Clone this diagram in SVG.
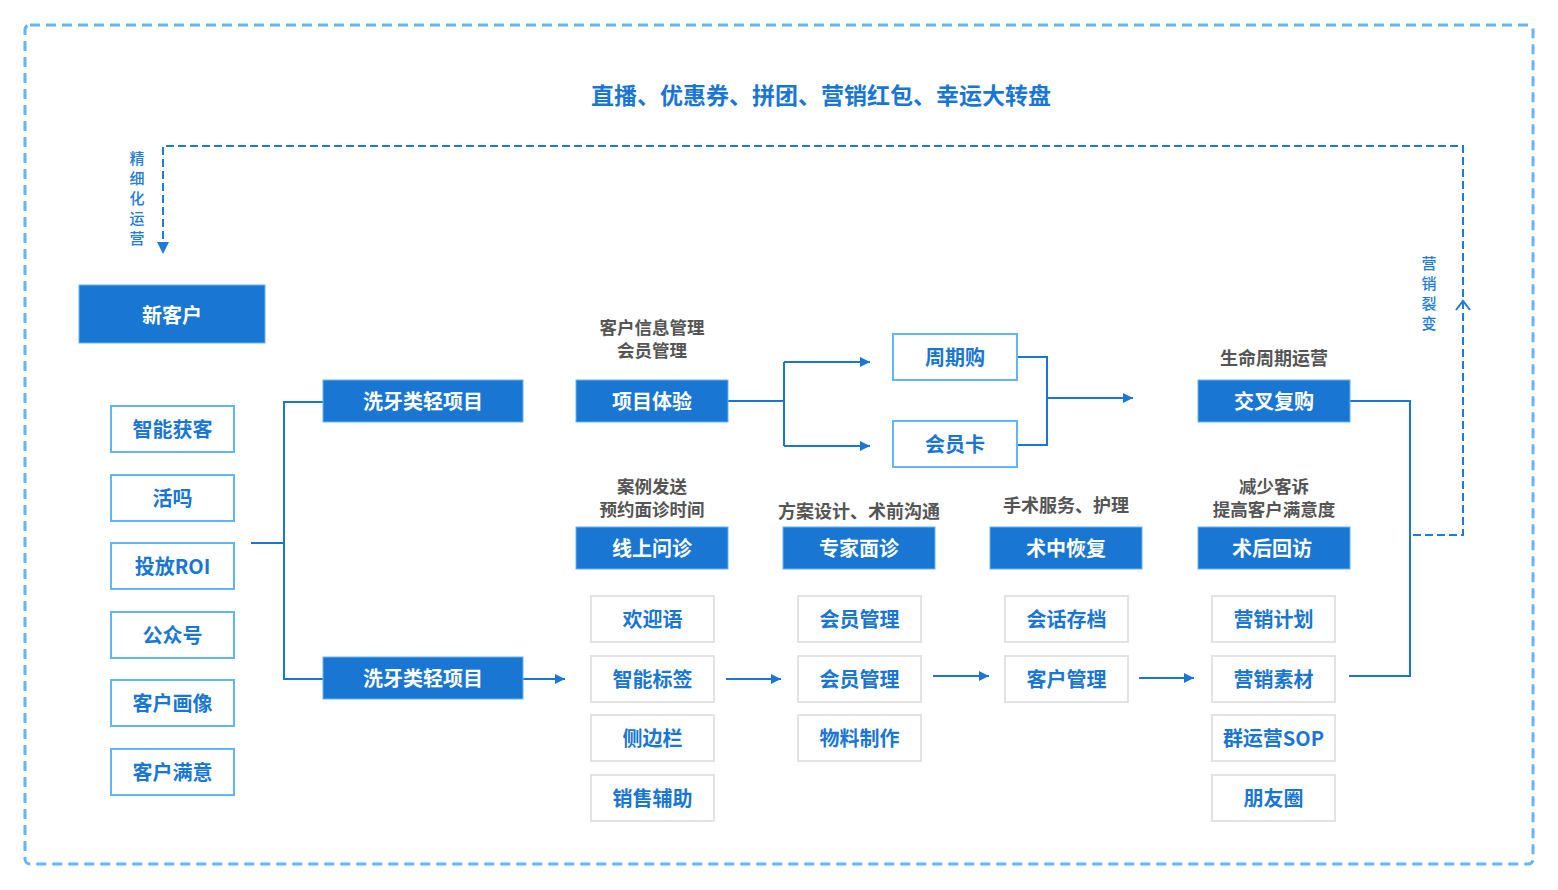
<svg xmlns="http://www.w3.org/2000/svg" width="1558" height="890" viewBox="0 0 1558 890">
<defs>
<marker id="ah" viewBox="0 0 10 10" refX="10" refY="5" markerWidth="14" markerHeight="10" markerUnits="userSpaceOnUse" orient="auto"><path d="M0,0 L10,5 L0,10 z" fill="#1976d2"/></marker>
<marker id="ahd" viewBox="0 0 10 10" refX="10" refY="5" markerWidth="18" markerHeight="12" markerUnits="userSpaceOnUse" orient="auto"><path d="M0,0 L10,5 L0,10 z" fill="#1e7bd8"/></marker>
</defs>
<style>
text{font-family:"Noto Sans CJK SC","Liberation Sans",sans-serif;font-weight:bold;text-anchor:middle;dominant-baseline:central}
.solid rect{fill:#1976d2;stroke:#64b5f6;stroke-width:1}
.solid text{fill:#fff;font-size:20px}
.lb rect{fill:#fff;stroke:#64b5f6;stroke-width:2}
.lb text{fill:#1976d2;font-size:20px}
.gb rect{fill:#fff;stroke:#e3e3e3;stroke-width:2}
.gb text{fill:#1976d2;font-size:20px}
.lab{fill:#555;font-size:18px}
.lab2{fill:#555;font-size:17.5px}
.side{fill:#1e7bd8;font-size:15px;font-weight:500}
.ln{fill:none;stroke:#1976d2;stroke-width:2}
.dash{fill:none;stroke:#1e7bd8;stroke-width:2;stroke-dasharray:8 4}
</style>
<rect x="25" y="25" width="1508" height="839" rx="5" fill="none" stroke="#64b5f6" stroke-width="3" stroke-dasharray="10 6"/>
<text x="821" y="94" fill="#1976d2" font-size="23">直播、优惠券、拼团、营销红包、幸运大转盘</text>
<g id="loop-labels">
<text class="side" x="137" y="157">精</text>
<text class="side" x="137" y="177">细</text>
<text class="side" x="137" y="197">化</text>
<text class="side" x="137" y="217">运</text>
<text class="side" x="137" y="237">营</text>
<text class="side" x="1429" y="262">营</text>
<text class="side" x="1429" y="282">销</text>
<text class="side" x="1429" y="302">裂</text>
<text class="side" x="1429" y="322">变</text>
</g>
<g id="connectors">
<path class="dash" d="M1413,535 H1463 V146 H163 V254" marker-end="url(#ahd)"/>
<path d="M1456,310 L1463,301 L1470,310" fill="none" stroke="#1e7bd8" stroke-width="2"/>
<path class="ln" d="M251,543 H284 M323,402 H284 V679 H323"/>
<path class="ln" d="M523,679 H565" marker-end="url(#ah)"/>
<path class="ln" d="M728,401 H784 M784,362 V446"/>
<path class="ln" d="M784,362 H870" marker-end="url(#ah)"/>
<path class="ln" d="M784,446 H870" marker-end="url(#ah)"/>
<path class="ln" d="M1017,357 H1047 V445 H1017"/>
<path class="ln" d="M1047,398 H1133" marker-end="url(#ah)"/>
<path class="ln" d="M1350,401 H1410 V676 H1349"/>
<path class="ln" d="M726,679 H781" marker-end="url(#ah)"/>
<path class="ln" d="M933,676 H989" marker-end="url(#ah)"/>
<path class="ln" d="M1139,678 H1194" marker-end="url(#ah)"/>
</g>
<g id="n-xinkehu" class="solid"><rect x="79" y="285" width="186" height="58"/><text x="172" y="314">新客户</text></g>
<g id="n-l1" class="lb"><rect x="111" y="406" width="123" height="46"/><text x="172.5" y="428">智能获客</text></g>
<g id="n-l2" class="lb"><rect x="111" y="475" width="123" height="46"/><text x="172.5" y="497">活吗</text></g>
<g id="n-l3" class="lb"><rect x="111" y="543" width="123" height="46"/><text x="172.5" y="565">投放ROI</text></g>
<g id="n-l4" class="lb"><rect x="111" y="612" width="123" height="46"/><text x="172.5" y="634">公众号</text></g>
<g id="n-l5" class="lb"><rect x="111" y="680" width="123" height="46"/><text x="172.5" y="702">客户画像</text></g>
<g id="n-l6" class="lb"><rect x="111" y="749" width="123" height="46"/><text x="172.5" y="771">客户满意</text></g>
<g id="n-xiya1" class="solid"><rect x="323" y="380" width="200" height="42"/><text x="423" y="400">洗牙类轻项目</text></g>
<g id="n-xiya2" class="solid"><rect x="323" y="657" width="200" height="42"/><text x="423" y="677">洗牙类轻项目</text></g>
<g id="n-tiyan" class="solid"><rect x="576" y="380" width="152" height="42"/><text x="652" y="400">项目体验</text></g>
<text class="lab2" x="652" y="326">客户信息管理</text>
<text class="lab2" x="652" y="349.5">会员管理</text>
<g id="n-zhouqi" class="lb"><rect x="893" y="334" width="124" height="46"/><text x="955" y="356">周期购</text></g>
<g id="n-huiyuanka" class="lb"><rect x="893" y="421" width="124" height="46"/><text x="955" y="443">会员卡</text></g>
<g id="n-jiaocha" class="solid"><rect x="1198" y="380" width="152" height="42"/><text x="1274" y="400">交叉复购</text></g>
<text class="lab" x="1274" y="357">生命周期运营</text>
<g id="n-xianshang" class="solid"><rect x="576" y="527" width="152" height="42"/><text x="652" y="547">线上问诊</text></g>
<text class="lab2" x="652" y="485">案例发送</text>
<text class="lab2" x="652" y="508.5">预约面诊时间</text>
<g id="n-zhuanjia" class="solid"><rect x="783" y="527" width="152" height="42"/><text x="859" y="547">专家面诊</text></g>
<text class="lab" x="859" y="510">方案设计、术前沟通</text>
<g id="n-shuzhong" class="solid"><rect x="990" y="527" width="152" height="42"/><text x="1066" y="547">术中恢复</text></g>
<text class="lab" x="1066" y="504">手术服务、护理</text>
<g id="n-shuhou" class="solid"><rect x="1198" y="527" width="152" height="42"/><text x="1272" y="547">术后回访</text></g>
<text class="lab2" x="1274" y="485">减少客诉</text>
<text class="lab2" x="1274" y="508.5">提高客户满意度</text>
<g id="n-c1a" class="gb"><rect x="591" y="596" width="123" height="46"/><text x="652.5" y="618">欢迎语</text></g>
<g id="n-c1b" class="gb"><rect x="591" y="656" width="123" height="46"/><text x="652.5" y="678">智能标签</text></g>
<g id="n-c1c" class="gb"><rect x="591" y="715" width="123" height="46"/><text x="652.5" y="737">侧边栏</text></g>
<g id="n-c1d" class="gb"><rect x="591" y="775" width="123" height="46"/><text x="652.5" y="797">销售辅助</text></g>
<g id="n-c2a" class="gb"><rect x="798" y="596" width="123" height="46"/><text x="859.5" y="618">会员管理</text></g>
<g id="n-c2b" class="gb"><rect x="798" y="656" width="123" height="46"/><text x="859.5" y="678">会员管理</text></g>
<g id="n-c2c" class="gb"><rect x="798" y="715" width="123" height="46"/><text x="859.5" y="737">物料制作</text></g>
<g id="n-c3a" class="gb"><rect x="1005" y="596" width="123" height="46"/><text x="1066.5" y="618">会话存档</text></g>
<g id="n-c3b" class="gb"><rect x="1005" y="656" width="123" height="46"/><text x="1066.5" y="678">客户管理</text></g>
<g id="n-c4a" class="gb"><rect x="1212" y="596" width="123" height="46"/><text x="1273.5" y="618">营销计划</text></g>
<g id="n-c4b" class="gb"><rect x="1212" y="656" width="123" height="46"/><text x="1273.5" y="678">营销素材</text></g>
<g id="n-c4c" class="gb"><rect x="1212" y="715" width="123" height="46"/><text x="1273.5" y="737">群运营SOP</text></g>
<g id="n-c4d" class="gb"><rect x="1212" y="775" width="123" height="46"/><text x="1273.5" y="797">朋友圈</text></g>
</svg>
